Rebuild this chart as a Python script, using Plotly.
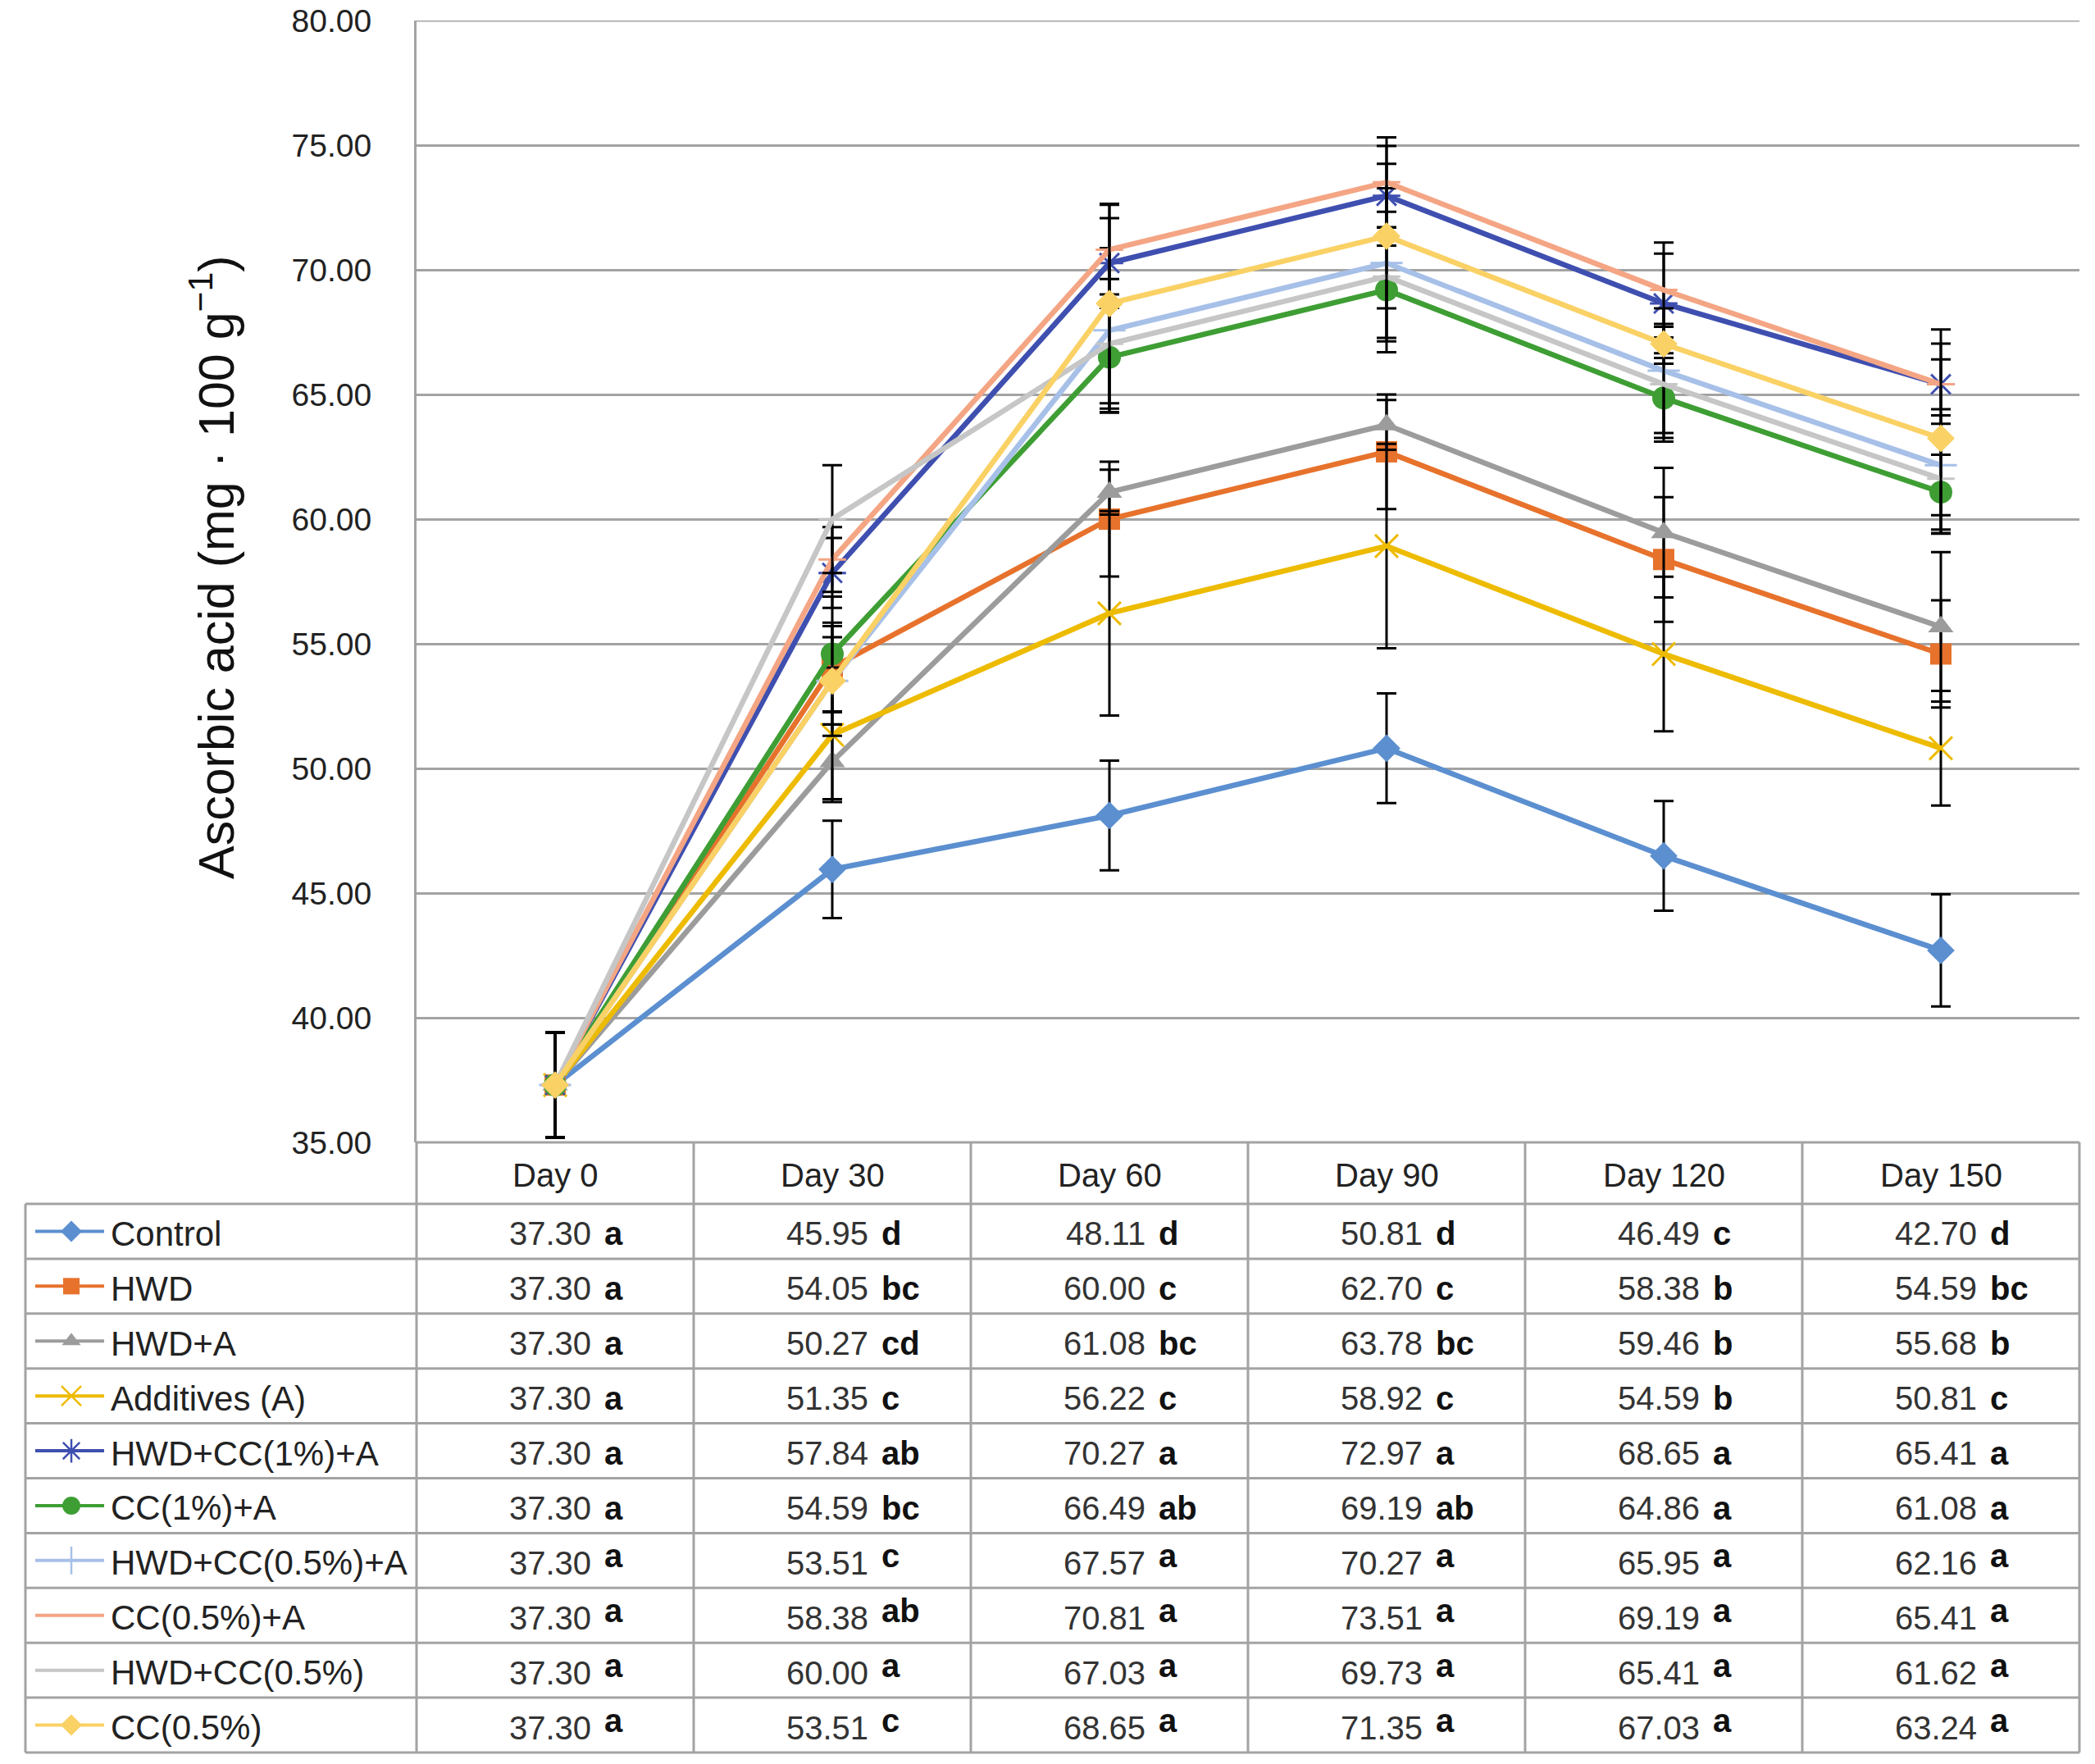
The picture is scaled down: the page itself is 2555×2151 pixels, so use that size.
import plotly.graph_objects as go

# Data (mean, SD, Duncan letters)
days = ["Day 0", "Day 30", "Day 60", "Day 90", "Day 120", "Day 150"]
treatments = ["Control", "HWD", "HWD+A", "Additives (A)", "HWD+CC(1%)+A",
              "CC(1%)+A", "HWD+CC(0.5%)+A", "CC(0.5%)+A", "HWD+CC(0.5%)", "CC(0.5%)"]

control = [37.30, 45.95, 48.11, 50.81, 46.49, 42.70]
hwd = [37.30, 54.05, 60.00, 62.70, 58.38, 54.59]
hwd_a = [37.30, 50.27, 61.08, 63.78, 59.46, 55.68]
additives = [37.30, 51.35, 56.22, 58.92, 54.59, 50.81]
hwd_cc1_a = [37.30, 57.84, 70.27, 72.97, 68.65, 65.41]
cc1_a = [37.30, 54.59, 66.49, 69.19, 64.86, 61.08]
hwd_cc05_a = [37.30, 53.51, 67.57, 70.27, 65.95, 62.16]
cc05_a = [37.30, 58.38, 70.81, 73.51, 69.19, 65.41]
hwd_cc05 = [37.30, 60.00, 67.03, 69.73, 65.41, 61.62]
cc05 = [37.30, 53.51, 68.65, 71.35, 67.03, 63.24]

control_sd = [2.1, 1.95, 2.2, 2.2, 2.2, 2.25]
hwd_sd = [2.1, 1.8, 2.3, 2.3, 2.5, 2.15]
hwd_a_sd = [2.1, 1.5, 0.9, 1.0, 2.6, 3.0]
additives_sd = [2.1, 2.7, 4.1, 4.1, 3.1, 2.3]
hwd_cc1_a_sd = [2.1, 1.4, 1.8, 2.0, 2.0, 2.2]
cc1_a_sd = [2.1, 2.3, 2.2, 2.5, 1.6, 1.5]
hwd_cc05_a_sd = [2.1, 1.75, 3.3, 3.0, 2.5, 2.0]
cc05_a_sd = [2.1, 1.3, 1.8, 1.8, 1.9, 1.0]
hwd_cc05_sd = [2.1, 2.16, 2.6, 2.6, 2.3, 2.2]
cc05_sd = [2.1, 2.2, 4.0, 2.9, 0.8, 3.8]

control_let = ["a", "d", "d", "d", "c", "d"]
hwd_let = ["a", "bc", "c", "c", "b", "bc"]
hwd_a_let = ["a", "cd", "bc", "bc", "b", "b"]
additives_let = ["a", "c", "c", "c", "b", "c"]
hwd_cc1_a_let = ["a", "ab", "a", "a", "a", "a"]
cc1_a_let = ["a", "bc", "ab", "ab", "a", "a"]
hwd_cc05_a_let = ["a", "c", "a", "a", "a", "a"]
cc05_a_let = ["a", "ab", "a", "a", "a", "a"]
hwd_cc05_let = ["a", "a", "a", "a", "a", "a"]
cc05_let = ["a", "c", "a", "a", "a", "a"]

means = [control, hwd, hwd_a, additives, hwd_cc1_a, cc1_a, hwd_cc05_a, cc05_a, hwd_cc05, cc05]
sds = [control_sd, hwd_sd, hwd_a_sd, additives_sd, hwd_cc1_a_sd, cc1_a_sd,
       hwd_cc05_a_sd, cc05_a_sd, hwd_cc05_sd, cc05_sd]
letters = [control_let, hwd_let, hwd_a_let, additives_let, hwd_cc1_a_let, cc1_a_let,
           hwd_cc05_a_let, cc05_a_let, hwd_cc05_let, cc05_let]

colors = ["#5B8FD0", "#E7722C", "#9C9C9C", "#EDBB00", "#3F4FB0",
          "#3E9E34", "#A7C0E8", "#F4A584", "#C6C6C6", "#FAD165"]
symbols = ["diamond", "square", "triangle-up", "x-thin-open", "asterisk-open",
           "circle", "cross-thin-open", "line-ew-open", "line-ew-open", "diamond"]
sizes = [26, 26, 27, 28, 28, 28, 28, 24, 24, 26]
leg_sizes = [20, 20, 20, 24, 24, 22, 24, 20, 20, 20]

# Page geometry (pixels)
W, H = 2555, 2151
plot_l, plot_r, plot_t, plot_b = 508, 2536, 25, 1393
leg_l = 31
head_b = 1468
row_h = (2137 - head_b) / 10
col_w = (plot_r - plot_l) / 6
FONT = "Liberation Sans, Arial, sans-serif"
GRID = "#A3A3A3"

fig = go.Figure()

for i, name in enumerate(treatments):
    open_sym = symbols[i].endswith("open")
    fig.add_trace(go.Scatter(
        x=days, y=means[i], name=name, mode="lines+markers",
        line=dict(color=colors[i], width=6.5),
        marker=dict(symbol=symbols[i], size=sizes[i], color=colors[i],
                    line=dict(color=colors[i], width=3 if open_sym else 0)),
        error_y=dict(type="data", array=sds[i], visible=True,
                     color="black", thickness=3, width=12),
        xaxis="x", yaxis="y",
    ))

# Legend swatches in the table (pixel overlay axes)
for i, name in enumerate(treatments):
    yc = head_b + row_h * (i + 0.5)
    open_sym = symbols[i].endswith("open")
    fig.add_trace(go.Scatter(
        x=[43, 87, 127], y=[yc, yc, yc], mode="lines",
        line=dict(color=colors[i], width=4),
        xaxis="x2", yaxis="y2", hoverinfo="skip",
    ))
    fig.add_trace(go.Scatter(
        x=[87], y=[yc], mode="markers",
        marker=dict(symbol=symbols[i], size=leg_sizes[i], color=colors[i],
                    line=dict(color=colors[i], width=2.5 if open_sym else 0)),
        xaxis="x2", yaxis="y2", hoverinfo="skip",
    ))

shapes = []
line_style = dict(color=GRID, width=3)
# top gridline of the plot (at 80.00)
shapes.append(dict(type="line", xref="x domain", yref="y", x0=0, x1=1,
                   y0=80, y1=80, line=line_style, layer="below"))
# vertical table lines
for k in range(7):
    x = plot_l + k * col_w
    shapes.append(dict(type="line", xref="x2", yref="y2", x0=x, x1=x,
                       y0=plot_b, y1=2137, line=line_style))
shapes.append(dict(type="line", xref="x2", yref="y2", x0=leg_l, x1=leg_l,
                   y0=head_b, y1=2137, line=line_style))
# horizontal table lines
shapes.append(dict(type="line", xref="x2", yref="y2", x0=plot_l, x1=plot_r,
                   y0=plot_b, y1=plot_b, line=line_style))
for r in range(11):
    y = head_b + r * row_h
    shapes.append(dict(type="line", xref="x2", yref="y2", x0=leg_l, x1=plot_r,
                       y0=y, y1=y, line=line_style))

annotations = []
# header
for k, d in enumerate(days):
    annotations.append(dict(
        text=d, xref="x2", yref="y2", x=plot_l + col_w * (k + 0.5),
        y=(plot_b + head_b) / 2 + 2, showarrow=False, xanchor="center", yanchor="middle",
        font=dict(family=FONT, size=40, color="#222222")))
# rows
for i, name in enumerate(treatments):
    yc = head_b + row_h * (i + 0.5) + 3
    annotations.append(dict(
        text=name, xref="x2", yref="y2", x=133, y=yc, showarrow=False,
        xanchor="left", yanchor="middle",
        font=dict(family=FONT, size=42, color="#222222")))
    lift = -9 if i >= 6 else 0
    for k in range(6):
        cx = plot_l + col_w * (k + 0.5)
        annotations.append(dict(
            text=f"{means[i][k]:.2f}", xref="x2", yref="y2", x=cx + 46, y=yc,
            showarrow=False, xanchor="right", yanchor="middle",
            font=dict(family=FONT, size=40, color="#333333")))
        annotations.append(dict(
            text=f"<b>{letters[i][k]}</b>", xref="x2", yref="y2", x=cx + 58,
            y=yc + lift, showarrow=False, xanchor="left", yanchor="middle",
            font=dict(family=FONT, size=40, color="#111111")))

# y axis title
annotations.append(dict(
    text="Ascorbic acid (mg · 100 g<sup>−1</sup>)", xref="x2", yref="y2",
    x=259, y=692, textangle=-90, showarrow=False, xanchor="center", yanchor="middle",
    font=dict(family=FONT, size=61, color="#111111")))

fig.update_layout(
    width=W, height=H, margin=dict(l=0, r=0, t=0, b=0, autoexpand=False),
    paper_bgcolor="white", plot_bgcolor="rgba(0,0,0,0)",
    showlegend=False, shapes=shapes, annotations=annotations,
    font=dict(family=FONT),
    xaxis=dict(domain=[plot_l / W, plot_r / W], range=[-0.5, 5.5], type="category",
               showticklabels=False, showgrid=False, zeroline=False, showline=False,
               ticks="", automargin=False),
    yaxis=dict(domain=[1 - plot_b / H, 1 - plot_t / H], range=[35, 80], dtick=5,
               tickformat=".2f", showgrid=True, gridcolor=GRID, gridwidth=3,
               zeroline=False, showline=True, linecolor=GRID, linewidth=3,
               ticks="", ticklabelstandoff=44, automargin=False,
               tickfont=dict(family=FONT, size=39, color="#222222")),
    xaxis2=dict(domain=[0, 1], range=[0, W], visible=False, anchor="y2", automargin=False),
    yaxis2=dict(domain=[0, 1], range=[H, 0], visible=False, anchor="x2", automargin=False),
)

fig.write_html("out.html", config={"displayModeBar": False},
               post_script="document.body.style.margin='0';document.body.style.overflow='hidden';")
